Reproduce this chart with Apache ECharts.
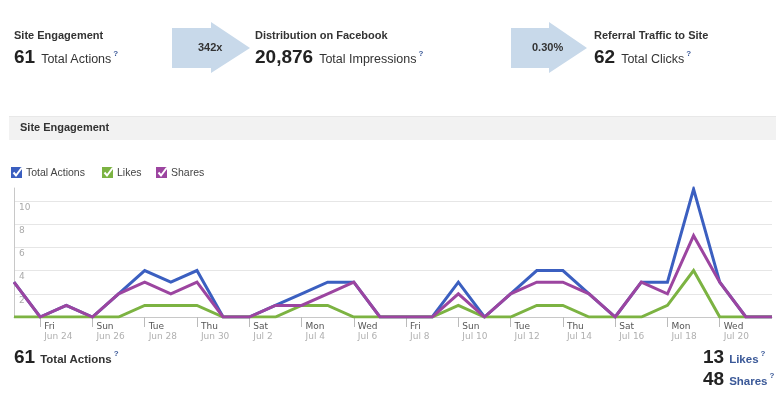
<!DOCTYPE html>
<html><head><meta charset="utf-8">
<script src="https://cdn.jsdelivr.net/npm/echarts@6/dist/echarts.min.js"></script>
<style>
body{margin:0;background:#fff;font-family:"Liberation Sans",Arial,sans-serif;}
#wrap{position:relative;width:780px;height:394px;overflow:hidden;background:#fff;}
#chart{position:absolute;left:0;top:0;width:780px;height:394px;}
.t{position:absolute;white-space:nowrap;color:#333;}
.ttl{font-weight:bold;font-size:11px;line-height:11px;color:#333;}
.big{font-weight:bold;font-size:19px;color:#222;}
.lbl{font-size:12.5px;color:#333;margin-left:6px;}
.q{font-size:8px;font-weight:bold;color:#3b5998;position:relative;top:-7px;margin-left:2px;}
.blbl{font-weight:bold;font-size:11.5px;color:#333;margin-left:5px;}
.blue{color:#3b5998;}
.band{position:absolute;left:9px;top:116px;width:767px;height:23px;background:#f2f2f2;border-top:1px solid #e8e8e8;}
.leg{position:absolute;top:166px;font-size:10.5px;color:#444;line-height:12px;white-space:nowrap;}
.leg svg{vertical-align:top;margin-right:3px;}
</style></head><body>
<div id="wrap">
<div id="chart"></div>

<svg style="position:absolute;left:0;top:0" width="780" height="100">
  <polygon points="172,28 211,28 211,22 250,48 211,73 211,68 172,68" fill="#c8d9ea"/>
  <polygon points="511,28 549,28 549,22 587,48 549,73 549,68 511,68" fill="#c8d9ea"/>
</svg>
<div class="t" style="left:198px;top:42px;font-weight:bold;font-size:11px;line-height:11px;color:#333;">342x</div>
<div class="t" style="left:532px;top:42px;font-weight:bold;font-size:11px;line-height:11px;color:#333;">0.30%</div>

<div class="t ttl" style="left:14px;top:30px;">Site Engagement</div>
<div class="t" style="left:14px;top:47px;line-height:19px;"><span class="big">61</span><span class="lbl">Total Actions</span><span class="q">?</span></div>

<div class="t ttl" style="left:255px;top:30px;">Distribution on Facebook</div>
<div class="t" style="left:255px;top:47px;line-height:19px;"><span class="big">20,876</span><span class="lbl">Total Impressions</span><span class="q">?</span></div>

<div class="t ttl" style="left:594px;top:30px;">Referral Traffic to Site</div>
<div class="t" style="left:594px;top:47px;line-height:19px;"><span class="big">62</span><span class="lbl">Total Clicks</span><span class="q">?</span></div>

<div class="band"></div>
<div class="t ttl" style="left:20px;top:122px;">Site Engagement</div>

<div class="leg" style="left:11px;"><svg width="12" height="12"><rect x="0" y="1" width="11" height="11" fill="#3b5fc0"/><polyline points="2.5,6.5 5,9.5 11,1.5" fill="none" stroke="#fff" stroke-width="2"/></svg>Total Actions</div>
<div class="leg" style="left:102px;"><svg width="12" height="12"><rect x="0" y="1" width="11" height="11" fill="#7cb342"/><polyline points="2.5,6.5 5,9.5 11,1.5" fill="none" stroke="#fff" stroke-width="2"/></svg>Likes</div>
<div class="leg" style="left:156px;"><svg width="12" height="12"><rect x="0" y="1" width="11" height="11" fill="#9c45a0"/><polyline points="2.5,6.5 5,9.5 11,1.5" fill="none" stroke="#fff" stroke-width="2"/></svg>Shares</div>

<div class="t" style="left:14px;top:347px;line-height:19px;"><span class="big">61</span><span class="blbl">Total Actions</span><span class="q">?</span></div>
<div class="t" style="left:703px;top:347px;line-height:19px;"><span class="big">13</span><span class="blbl blue">Likes</span><span class="q">?</span></div>
<div class="t" style="left:703px;top:369px;line-height:19px;"><span class="big">48</span><span class="blbl blue">Shares</span><span class="q">?</span></div>
</div>
<script>
const dates = ['Jun 23','Jun 24','Jun 25','Jun 26','Jun 27','Jun 28','Jun 29','Jun 30','Jul 1','Jul 2','Jul 3','Jul 4','Jul 5','Jul 6','Jul 7','Jul 8','Jul 9','Jul 10','Jul 11','Jul 12','Jul 13','Jul 14','Jul 15','Jul 16','Jul 17','Jul 18','Jul 19','Jul 20','Jul 21','Jul 22'];
const weekdays = ['Thu','Fri','Sat','Sun','Mon','Tue','Wed','Thu','Fri','Sat','Sun','Mon','Tue','Wed','Thu','Fri','Sat','Sun','Mon','Tue','Wed','Thu','Fri','Sat','Sun','Mon','Tue','Wed','Thu','Fri'];
const totalActions = [3,0,1,0,2,4,3,4,0,0,1,2,3,3,0,0,0,3,0,2,4,4,2,0,3,3,11,3,0,0];
const likes        = [0,0,0,0,0,1,1,1,0,0,0,1,1,0,0,0,0,1,0,0,1,1,0,0,0,1,4,0,0,0];
const shares       = [3,0,1,0,2,3,2,3,0,0,1,1,2,3,0,0,0,2,0,2,3,3,2,0,3,2,7,3,0,0];
const yTicks = [2,4,6,8,10];

const chart = echarts.init(document.getElementById('chart'), null, {renderer:'canvas'});
const showIdx = (i) => i % 2 === 1 && i <= 27;
chart.setOption({
  animation:false,
  backgroundColor:'transparent',
  grid:{left:14,right:8,top:188,bottom:77,containLabel:false,outerBoundsMode:'none'},
  xAxis:{
    type:'category', boundaryGap:false, data:dates,
    axisLine:{lineStyle:{color:'#c8c8c8',width:1}},
    axisTick:{show:true,length:10,interval:(i)=>showIdx(i),lineStyle:{color:'#bbb'}},
    axisLabel:{
      interval:(i)=>showIdx(i), align:'left', margin:5, padding:[0,0,0,4], hideOverlap:false,
      formatter:(v,i)=>'{d|'+weekdays[i]+'}\n{m|'+v+'}',
      rich:{d:{color:'#555',fontSize:9,lineHeight:10,fontFamily:'DejaVu Sans'},m:{color:'#b0b0b0',fontSize:9,lineHeight:10,fontFamily:'DejaVu Sans'}}
    },
    splitLine:{show:false}
  },
  yAxis:{
    type:'value', min:0, max:11.1, interval:2,
    axisLine:{show:true,lineStyle:{color:'#c8c8c8'}},
    axisTick:{show:false},
    axisLabel:{inside:true,margin:5,verticalAlign:'top',padding:[2,0,0,0],color:'#aaa',fontSize:9,fontFamily:'DejaVu Sans',
      showMinLabel:false,showMaxLabel:false,
      formatter:(v)=> yTicks.indexOf(v)>=0 ? String(v) : ''},
    splitLine:{show:true,showMinLine:false,showMaxLine:false,lineStyle:{color:'#e6e6e6',width:1}}
  },
  series:[
    {name:'Total Actions',type:'line',data:totalActions,symbol:'none',lineStyle:{color:'#3b5fc0',width:3,join:'miter'},z:2},
    {name:'Likes',type:'line',data:likes,symbol:'none',lineStyle:{color:'#7cb342',width:3,join:'miter'},z:3},
    {name:'Shares',type:'line',data:shares,symbol:'none',lineStyle:{color:'#9c45a0',width:3,join:'miter'},z:4}
  ]
});
</script>
</body></html>
